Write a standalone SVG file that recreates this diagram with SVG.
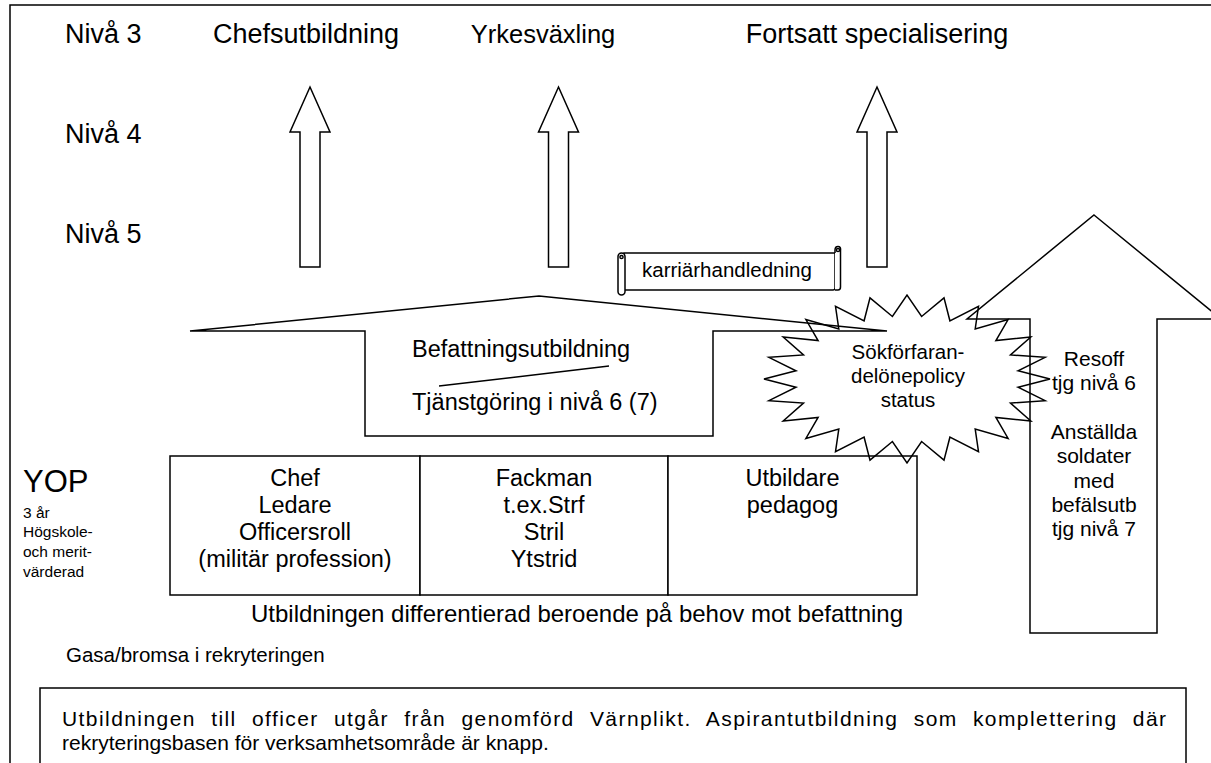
<svg xmlns="http://www.w3.org/2000/svg" xmlns:xlink="http://www.w3.org/1999/xlink" width="1211" height="763" viewBox="0 0 1211 763">
<style>
  .ln { fill: none; stroke: #000; stroke-width: 1.5; }
  .sh { fill: #fff; stroke: #000; stroke-width: 1.5; stroke-linejoin: miter; }
  .st { fill: none; stroke: #000; stroke-width: 1.5; stroke-linejoin: miter; }
  text { font-family: "Liberation Sans", Arial, sans-serif; fill: #000; }
  .t27 { font-size: 27px; }
  .t24 { font-size: 24px; }
  .t235 { font-size: 23.5px; }
  .t21 { font-size: 21px; }
  .t205 { font-size: 20.5px; }
  .t15 { font-size: 15.5px; }
  .mid { text-anchor: middle; }
</style>
<defs>
  <path id="upArrow" class="sh" d="M0,0 L20,45 L10,45 L10,180 L-10,180 L-10,45 L-20,45 Z"/>
</defs>
<rect width="1211" height="763" fill="#fff"/>

<g id="frame">
  <path class="ln" d="M10,763 V5 H1211"/>
</g>

<g id="levels">
  <text class="t27" x="65" y="43">Nivå 3</text>
  <text class="t27" x="65" y="143">Nivå 4</text>
  <text class="t27" x="65" y="243">Nivå 5</text>
</g>

<g id="goal-chef">
  <text class="t27" x="213" y="43">Chefsutbildning</text>
  <use xlink:href="#upArrow" x="310" y="87"/>
</g>
<g id="goal-yrke">
  <text class="mid" x="543" y="43" style="font-size:25.5px">Yrkesväxling</text>
  <use xlink:href="#upArrow" x="558.5" y="87"/>
</g>
<g id="goal-spec">
  <text class="t27 mid" x="877" y="43">Fortsatt specialisering</text>
  <use xlink:href="#upArrow" x="877" y="87"/>
</g>

<g id="befattning">
  <path class="sh" d="M190,331 L539,296 L887,331 L713,331 L713,436 L365,436 L365,331 Z"/>
  <text class="t235" x="412" y="357">Befattningsutbildning</text>
  <text class="t235" x="412" y="410">Tjänstgöring i nivå 6 (7)</text>
</g>

<g id="box-chef">
  <rect class="sh" x="170" y="456" width="250" height="139"/>
  <text class="t235 mid" x="295" y="486">Chef</text>
  <text class="t235 mid" x="295" y="513">Ledare</text>
  <text class="t235 mid" x="295" y="540">Officersroll</text>
  <text class="t235 mid" x="295" y="567">(militär profession)</text>
</g>
<g id="box-fackman">
  <rect class="sh" x="420" y="456" width="248" height="139"/>
  <text class="t235 mid" x="544" y="486">Fackman</text>
  <text class="t235 mid" x="544" y="513">t.ex.Strf</text>
  <text class="t235 mid" x="544" y="540">Stril</text>
  <text class="t235 mid" x="544" y="567">Ytstrid</text>
</g>
<g id="box-utbildare">
  <rect class="sh" x="668" y="456" width="249" height="139"/>
  <text class="t235 mid" x="792.5" y="486">Utbildare</text>
  <text class="t235 mid" x="792.5" y="513">pedagog</text>
</g>

<g id="resoff-arrow">
  <path class="sh" d="M1094,215 L1221,319 L1157,319 L1157,633 L1030,633 L1030,319 L967,319 Z"/>
  <text class="t21 mid" x="1094" y="365.5">Resoff</text>
  <text class="t21 mid" x="1094" y="390">tjg nivå 6</text>
  <text class="t21 mid" x="1094" y="438.7">Anställda</text>
  <text class="t21 mid" x="1094" y="463">soldater</text>
  <text class="t21 mid" x="1094" y="487.5">med</text>
  <text class="t21 mid" x="1094" y="512">befälsutb</text>
  <text class="t21 mid" x="1094" y="536.3">tjg nivå 7</text>
</g>

<g id="explosion">
  <polygon class="st" points="1050,379 1018,370.8 1045.1,357.3 1010.5,354.9 1030.8,337 995.9,340.6 1008.1,319.6 975.2,329 978.5,306.3 949.9,320.8 944,297.9 921.6,316.5 907,295 892.4,316.5 870,297.9 864.1,320.8 835.5,306.3 838.8,329 805.9,319.6 818.1,340.6 783.2,337 803.5,354.9 768.9,357.3 796,370.8 764,379 796,387.2 768.9,400.7 803.5,403.1 783.2,421 818.1,417.4 805.9,438.4 838.8,429 835.5,451.7 864.1,437.2 870,460.1 892.4,441.5 907,463 921.6,441.5 944,460.1 949.9,437.2 978.5,451.7 975.2,429 1008.1,438.4 995.9,417.4 1030.8,421 1010.5,403.1 1045.1,400.7 1018,387.2"/>
  <text class="t205 mid" x="908" y="359">Sökförfaran-</text>
  <text class="t205 mid" x="908" y="383">delönepolicy</text>
  <text class="t205 mid" x="908" y="407">status</text>
</g>

<g id="scroll">
  <path class="sh" d="M624,253 H835 V288 Q835,290 833,290 H624 Z"/>
  <path class="sh" d="M835,253 V250 Q835,246.5 838,246.5 Q841,246.5 840.5,250.5 V287 Q840.5,290 838,290 H835"/>
  <circle class="ln" cx="838" cy="250" r="1.6"/>
  <rect class="sh" x="618" y="253" width="7" height="42" rx="3.5"/>
  <circle class="ln" cx="621.5" cy="257" r="1.6"/>
  <text class="t205" x="642" y="277">karriärhandledning</text>
</g>

<g id="yop">
  <text x="23" y="492" style="font-size:31px">YOP</text>
  <text class="t15" x="23" y="518">3 år</text>
  <text class="t15" x="23" y="537">Högskole-</text>
  <text class="t15" x="23" y="557">och merit-</text>
  <text class="t15" x="23" y="577">värderad</text>
</g>

<g id="notes">
  <text class="t24" x="251" y="622">Utbildningen differentierad beroende på behov mot befattning</text>
  <text class="t205" x="66" y="662">Gasa/bromsa i rekryteringen</text>
</g>

<g id="note-box">
  <rect class="sh" x="40" y="688" width="1146" height="100"/>
  <text class="t21" x="62" y="726" style="word-spacing:8px" textLength="1104" lengthAdjust="spacing">Utbildningen till officer utgår från genomförd Värnplikt. Aspirantutbildning som komplettering där</text>
  <text class="t21" x="62" y="750">rekryteringsbasen för verksamhetsområde är knapp.</text>
</g>

<g id="connectors">
  <path class="ln" d="M439,386 L609,366"/>
</g>
</svg>
